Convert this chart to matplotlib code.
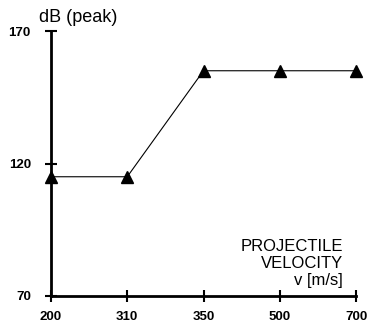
import matplotlib
matplotlib.use("Agg")
import matplotlib.pyplot as plt

velocities = ["200", "310", "350", "500", "700"]
db_peak = [115, 115, 155, 155, 155]
y_ticks = [70, 120, 170]

plt.rcParams['font.family'] = ['Liberation Sans', 'DejaVu Sans']

fig = plt.figure(figsize=(3.9, 3.31), dpi=100)
ax = fig.add_axes([51/390, 35/331, (356-51)/390, (296-31)/331])
x = list(range(len(velocities)))
ax.plot(x, db_peak, color='black', lw=0.8, marker='^', markersize=9, clip_on=False)
ax.set_xlim(0, len(velocities)-1)
ax.set_ylim(70, 170)
ax.set_xticks(x)
ax.set_xticklabels(velocities, fontsize=9.5, fontweight='bold')
ax.set_yticks(y_ticks)
ax.set_yticklabels([str(t) for t in y_ticks], fontsize=9.5, fontweight='bold')
for s in ['top', 'right']:
    ax.spines[s].set_visible(False)
for s in ['left', 'bottom']:
    ax.spines[s].set_linewidth(2)
ax.tick_params(direction='inout', length=9, width=1.5, pad=6)
ax.tick_params(axis='y', pad=10)
fig.text(39/390, 1 - 17/331, "dB (peak)", fontsize=13, va='center', ha='left')
ax.text(0.958, 0.03, "PROJECTILE\nVELOCITY\nv [m/s]", transform=ax.transAxes,
        ha='right', va='bottom', fontsize=12, multialignment='right', linespacing=1.15)
fig.savefig("out.png", dpi=100)
